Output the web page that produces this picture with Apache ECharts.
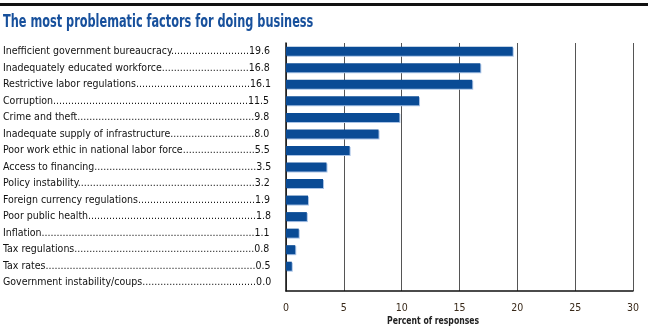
<!DOCTYPE html>
<html><head><meta charset="utf-8">
<script src="https://cdn.jsdelivr.net/npm/echarts@6/dist/echarts.min.js"></script>
<style>html,body{margin:0;padding:0;background:#fff}#c{width:650px;height:330px}</style>
</head><body><div id="c"></div>
<script>
const categories = ["Inefficient government bureaucracy","Inadequately educated workforce","Restrictive labor regulations","Corruption","Crime and theft","Inadequate supply of infrastructure","Poor work ethic in national labor force","Access to financing","Policy instability","Foreign currency regulations","Poor public health","Inflation","Tax regulations","Tax rates","Government instability/coups"];
const values = [19.6,16.8,16.1,11.5,9.8,8.0,5.5,3.5,3.2,1.9,1.8,1.1,0.8,0.5,0.0];
const xTicks = [0,5,10,15,20,25,30];

const FONT = '"DejaVu Sans Condensed","Liberation Sans Narrow",sans-serif';
const LFS = 10.5;
const cv = document.createElement('canvas').getContext('2d');
cv.font = LFS + 'px ' + FONT;
const TOTALW = 269;
function dotted(name, val){
  let s = name;
  while (cv.measureText(s + '.' + val).width <= TOTALW) s += '.';
  return s + val;
}
const labelMap = {};
categories.forEach((c,i)=>{ labelMap[c] = dotted(c, values[i].toFixed(1)); });

const chart = echarts.init(document.getElementById('c'));
chart.setOption({
  animation:false,
  grid:{left:286,right:17,top:43,bottom:39},
  graphic:[
    {type:'rect',shape:{x:0,y:3,width:648,height:3},style:{fill:'#111'}},
    {type:'text',x:3,y:14,scaleX:0.74,style:{text:'The most problematic factors for doing business',font:'bold 17px '+FONT,fill:'#17509c',textVerticalAlign:'top'}},
    {type:'text',x:387,y:316,scaleX:0.78,style:{text:'Percent of responses',font:'bold 11px '+FONT,fill:'#222',textVerticalAlign:'top'}}
  ],
  xAxis:{type:'value',min:0,max:30,interval:5,
    axisLine:{show:true,lineStyle:{color:'#111',width:1.5}},
    axisTick:{show:false},
    axisLabel:{margin:12,color:'#3a2a1a',fontFamily:FONT,fontSize:10.5,formatter:v=>xTicks.includes(v)?String(v):''},
    splitLine:{show:true,lineStyle:{color:'#555',width:1}}
  },
  yAxis:{type:'category',data:categories,inverse:true,
    axisLine:{show:true,lineStyle:{color:'#111',width:1.5}},
    axisTick:{show:false},
    axisLabel:{margin:283,align:'left',formatter:c=>labelMap[c],fontFamily:FONT,fontSize:LFS,color:'#111'}
  },
  series:[{type:'bar',data:values,barWidth:9,
    itemStyle:{color:'#0a4b95',shadowColor:'#a9c3e6',shadowOffsetX:1,shadowOffsetY:1,shadowBlur:0}}]
});
</script></body></html>
